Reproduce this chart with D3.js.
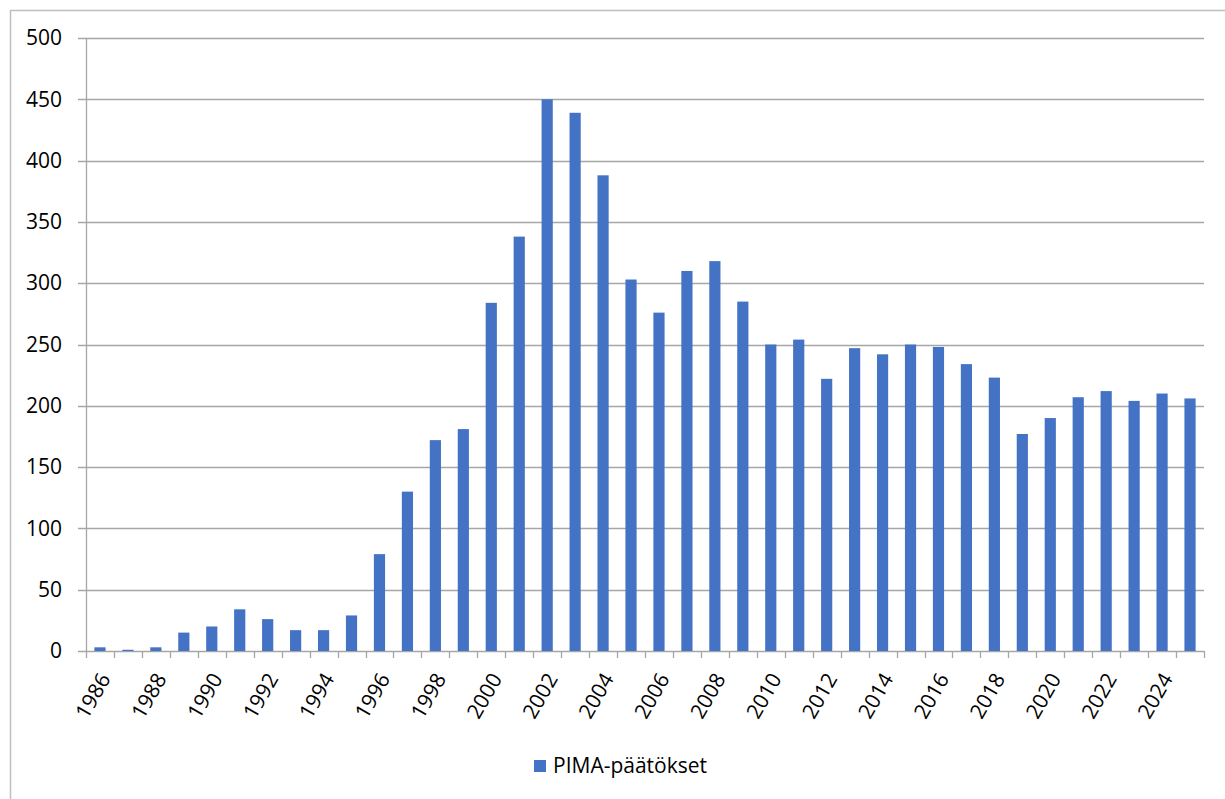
<!DOCTYPE html>
<html>
<head>
<meta charset="utf-8">
<script src="https://cdn.jsdelivr.net/npm/d3@7"></script>
<style>
  body { margin: 0; background: #fff; }
  svg { display: block; font-family: "Open Sans", "Noto Sans", sans-serif; }
</style>
</head>
<body>
<svg id="chart" width="1225" height="799"></svg>
<script>
// Data
const years = d3.range(1986, 2026).map(String);
const values = [3, 1, 3, 15, 20, 34, 26, 17, 17, 29,
                79, 130, 172, 181, 284, 338, 450, 439, 388, 303,
                276, 310, 318, 285, 250, 254, 222, 247, 242, 250,
                248, 234, 223, 177, 190, 207, 212, 204, 210, 206];
const yTicks = [0, 50, 100, 150, 200, 250, 300, 350, 400, 450, 500];
const seriesName = "PIMA-päätökset";

const svg = d3.select("#chart");
const width = 1225, height = 799;
const margin = { top: 38, right: 21, bottom: 148, left: 86 };
const innerWidth = width - margin.left - margin.right;
const innerHeight = height - margin.top - margin.bottom;

// ulkokehys (jatkuu oikean ja alareunan yli)
svg.append("rect")
    .attr("x", 10.5).attr("y", 10.5)
    .attr("width", width).attr("height", height)
    .attr("fill", "none")
    .attr("stroke", "#bfbfbf")
    .attr("stroke-width", 1.5);

const xScale = d3.scaleBand()
    .domain(years)
    .range([0, innerWidth])
    .paddingInner(0.6)
    .paddingOuter(0.3);

const yScale = d3.scaleLinear()
    .domain([0, 500])
    .range([innerHeight, 0]);

const g = svg.append("g")
    .attr("transform", `translate(${margin.left},${margin.top})`);

// Gridlines
g.append("g")
    .selectAll("line")
    .data(yTicks)
    .join("line")
    .attr("x1", -8)
    .attr("x2", innerWidth)
    .attr("y1", d => Math.round(yScale(d)) + 0.5)
    .attr("y2", d => Math.round(yScale(d)) + 0.5)
    .attr("stroke", "#a6a6a6")
    .attr("stroke-width", 1.3);

// y-akselin luvut
const yAxis = d3.axisLeft(yScale).tickValues(yTicks).tickSize(0).tickPadding(24);
g.append("g").call(yAxis)
    .call(s => s.select(".domain").remove())
    .selectAll("text")
    .attr("fill", "#000")
    .style("font-size", "21px")
    .style("font-family", "'Open Sans', 'Noto Sans', sans-serif");

// y axis line
g.append("line")
    .attr("x1", 0.5).attr("x2", 0.5)
    .attr("y1", 0).attr("y2", innerHeight)
    .attr("stroke", "#a6a6a6")
    .attr("stroke-width", 1.3);

// Bars
g.append("g")
    .selectAll("rect")
    .data(values)
    .join("rect")
    .attr("x", (d, i) => xScale(years[i]))
    .attr("width", xScale.bandwidth())
    .attr("y", d => yScale(d))
    .attr("height", d => innerHeight - yScale(d))
    .attr("fill", "#4472c4");

// x axis tick marks between categories
g.append("g")
    .selectAll("line")
    .data(d3.range(years.length + 1))
    .join("line")
    .attr("x1", i => Math.round(i * xScale.step()) + 0.5)
    .attr("x2", i => Math.round(i * xScale.step()) + 0.5)
    .attr("y1", innerHeight)
    .attr("y2", innerHeight + 7)
    .attr("stroke", "#a6a6a6")
    .attr("stroke-width", 1.3);

// x labels joka toinen vuosi
g.append("g")
    .selectAll("text")
    .data(years.filter((y, i) => i % 2 === 0))
    .join("text")
    .attr("transform", d => `translate(${xScale(d) + xScale.bandwidth() / 2 + 5},${innerHeight + 24}) rotate(-60)`)
    .attr("text-anchor", "end")
    .attr("dy", "0.35em")
    .style("font-size", "21px")
    .attr("fill", "#000")
    .text(d => d);

// Legend
const legend = svg.append("g")
    .attr("transform", "translate(534,760)");
legend.append("rect")
    .attr("width", 12).attr("height", 12)
    .attr("fill", "#4472c4");
legend.append("text")
    .attr("x", 19)
    .attr("y", 6)
    .attr("dy", "0.35em")
    .style("font-size", "21px")
    .attr("fill", "#000")
    .text(seriesName);
</script>
</body>
</html>
